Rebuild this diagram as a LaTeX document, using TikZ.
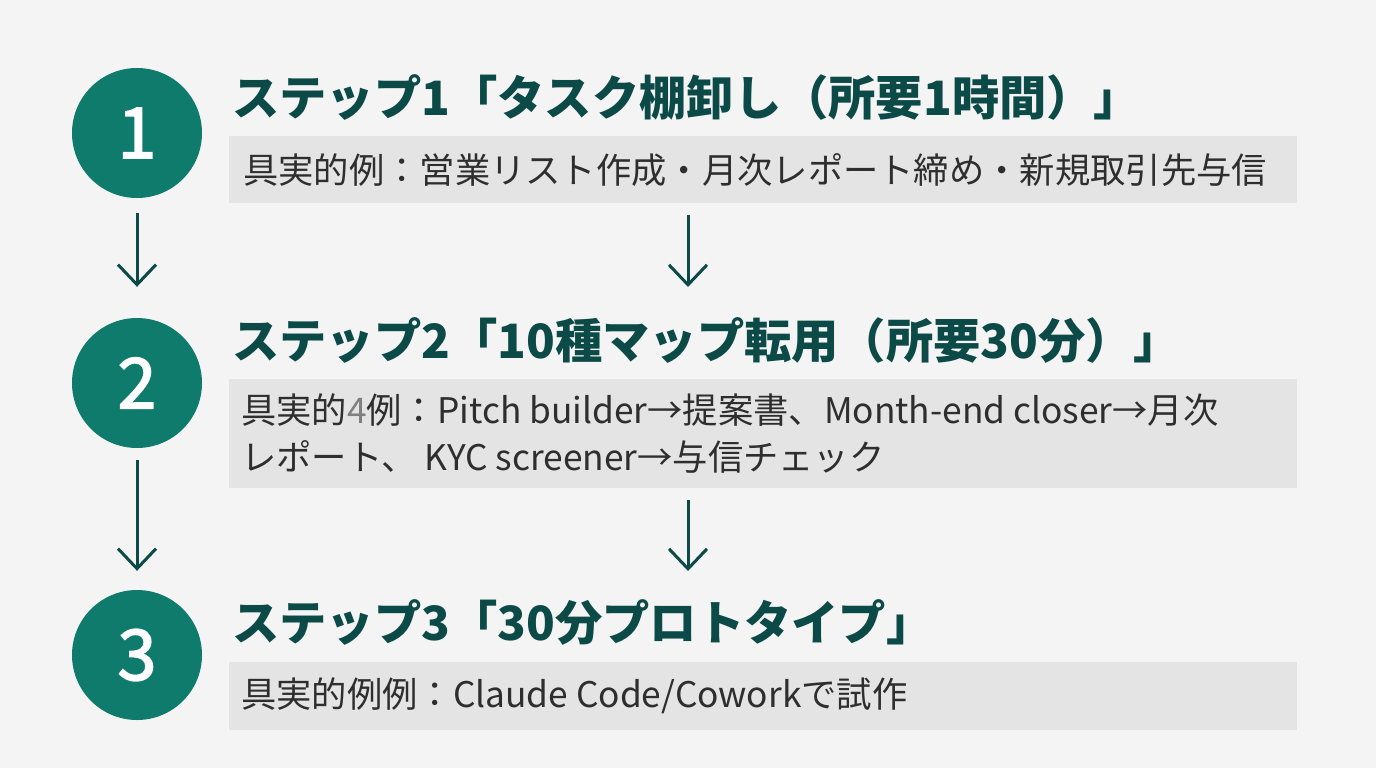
\documentclass[tikz,border=0pt]{standalone}
\usepackage{fontspec}
\setmainfont{Noto Sans CJK JP}
\newfontfamily\numfont[FakeBold=2.3]{Noto Sans CJK JP}
\usetikzlibrary{arrows.meta}
\definecolor{bgc}{HTML}{F4F4F4}
\definecolor{boxc}{HTML}{E4E4E4}
\definecolor{circc}{HTML}{0F7B6C}
\definecolor{titlec}{HTML}{0C4A48}
\definecolor{textc}{HTML}{2E2E2E}
\tikzset{
  stepcirc/.style={circle, fill=circc, minimum size=130pt, inner sep=0pt, text=white, font=\numfont\fontsize{70}{70}\selectfont},
  titletext/.style={anchor=base west, inner sep=0pt, text=titlec, font=\fontsize{47.3}{50}\selectfont\bfseries},
  bodybox/.style={fill=boxc, draw=none},
  bodytext/.style={anchor=west, inner sep=0pt, text=textc, align=left, font=\fontsize{35.3}{47}\selectfont},
  flowarrow/.style={draw=titlec, line width=3pt, -{Straight Barb[length=20pt,width=38pt,line width=3pt]}}
}
\begin{document}
\begin{tikzpicture}[x=1pt,y=-1pt]
\useasboundingbox (0,0) rectangle (1376,768);
\fill[bgc] (0,0) rectangle (1376,768);
% boxes
\fill[boxc] (229,136) rectangle (1297,203);
\fill[boxc] (229,379) rectangle (1297,488);
\fill[boxc] (229,662) rectangle (1297,730);
% circles
\node[stepcirc] (c1) at (137,133) {1};
\node[stepcirc] (c2) at (137,383) {2};
\node[stepcirc] (c3) at (137,655) {3};
% titles
\node[titletext] (t1) at (232,115) {ステップ1「タスク棚卸し（所要1時間）」};
\node[titletext] (t2) at (232,358) {ステップ2「10種マップ転用（所要30分）」};
\node[titletext] (t3) at (232,640) {ステップ3「30分プロトタイプ」};
% body texts
\node[bodytext] (b1) at (243,170) {具実的例：営業リスト作成・月次レポート締め・新規取引先与信};
\node[bodytext] (b2) at (241,434) {具実的{\color{gray}4}例：Pitch builder→提案書、Month-end closer→月次\\レポート、 KYC screener→与信チェック};
\node[bodytext] (b3) at (241,696) {具実的例例：Claude Code/Coworkで試作};
% arrows
\coordinate (r1s) at (688,215);
\coordinate (r1e) at (688,287);
\coordinate (r2s) at (688,500);
\coordinate (r2e) at (688,571);
\draw[flowarrow, shorten <=15pt, shorten >=31pt] (c1.south) -- (c2.north);
\draw[flowarrow, shorten <=12pt, shorten >=19pt] (c2.south) -- (c3.north);
\draw[flowarrow] (r1s) -- (r1e);
\draw[flowarrow] (r2s) -- (r2e);
\end{tikzpicture}
\end{document}
